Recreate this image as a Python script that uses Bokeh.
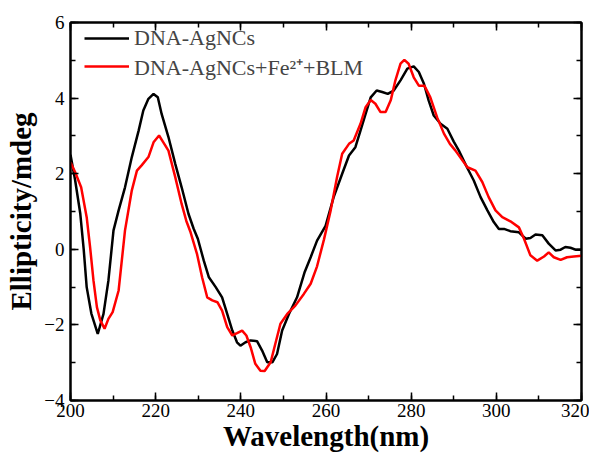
from bokeh.plotting import figure
from bokeh.models import (Range1d, LinearAxis, SingleIntervalTicker, Legend, LegendItem,
                          CustomJSTickFormatter)
from bokeh.embed import file_html
from bokeh.resources import INLINE

# DNA-AgNCs (black)
wl_black = [200, 201.1, 202.3, 203.1, 203.8, 204.9, 206.4, 207.75, 208.9, 210.1, 211.3, 212.8,
            214.4, 216.0, 217.1, 218.3, 219.5, 220.5, 221.4, 223.0, 224.6, 226.1, 227.7, 228.9,
            229.9, 231.3, 232.5, 234.1, 235.6, 236.8, 238.0, 239.1, 239.9, 241.1, 242.3, 243.8,
            245.0, 246.2, 247.4, 248.5, 249.7, 251.3, 253.2, 255.0, 256.4, 257.9, 259.9, 261.8,
            263.8, 265.4, 266.9, 268.1, 269.3, 270.5, 271.9, 273.2, 274.5, 275.9, 277.5, 279.1,
            280.6, 281.8, 283.0, 284.1, 285.3, 286.9, 288.5, 290.0, 291.2, 293.1, 294.7, 296.3,
            297.9, 299.4, 300.6, 301.8, 303.3, 305.3, 306.9, 308.0, 309.2, 310.8, 312.3, 313.9,
            315.1, 316.2, 317.4, 318.6, 320]
cd_black = [2.5, 1.82, 0.94, 0.0, -1.0, -1.7, -2.24, -1.71, -0.83, 0.50, 1.03, 1.64,
            2.44, 3.14, 3.67, 3.98, 4.11, 4.02, 3.58, 2.97, 2.26, 1.64, 0.94, 0.55,
            0.28, -0.30, -0.74, -1.00, -1.27, -1.71, -2.15, -2.46, -2.55, -2.46, -2.41, -2.43,
            -2.68, -2.99, -2.99, -2.77, -2.15, -1.71, -1.27, -0.60, -0.21, 0.23, 0.62, 1.38,
            2.00, 2.48, 2.70, 3.14, 3.58, 4.02, 4.20, 4.16, 4.11, 4.20, 4.47, 4.78,
            4.84, 4.69, 4.38, 3.94, 3.54, 3.32, 3.19, 2.85, 2.61, 2.17, 1.82, 1.38,
            1.03, 0.72, 0.54, 0.54, 0.48, 0.45, 0.28, 0.30, 0.39, 0.37, 0.15, -0.03,
            -0.01, 0.06, 0.04, -0.01, -0.01]

# DNA-AgNCs+Fe2+ +BLM (red)
wl_red = [200, 201.1, 202.5, 203.8, 204.6, 205.4, 206.2, 207.0, 208.0, 208.9, 209.9, 211.3,
          212.8, 214.4, 215.6, 216.7, 218.3, 219.5, 220.8, 221.8, 223.0, 224.6, 226.1, 227.2,
          228.2, 229.7, 230.9, 232.1, 233.3, 234.5, 235.6, 236.8, 238.0, 239.1, 240.3, 241.3,
          242.3, 243.4, 244.6, 245.6, 247.0, 248.1, 249.3, 250.9, 252.8, 254.8, 256.4, 257.9,
          259.5, 261.1, 262.6, 263.8, 265.4, 266.5, 268.1, 269.3, 270.5, 271.6, 272.8, 274.0,
          275.2, 276.3, 277.5, 278.4, 279.4, 280.6, 281.8, 283.1, 284.5, 286.1, 287.7, 289.1,
          290.4, 293.2, 295.1, 296.7, 298.2, 299.8, 301.4, 303.3, 305.3, 306.5, 308.0, 309.6,
          311.2, 312.3, 313.5, 315.1, 316.6, 318.2, 320]
cd_red = [2.30, 2.04, 1.64, 0.85, 0.06, -0.83, -1.53, -1.88, -2.10, -1.84, -1.66, -1.09,
          0.50, 1.56, 2.08, 2.22, 2.44, 2.83, 3.01, 2.83, 2.61, 1.91, 1.20, 0.75,
          0.45, -0.12, -0.74, -1.27, -1.35, -1.40, -1.62, -2.06, -2.28, -2.22, -2.15, -2.28,
          -2.59, -3.03, -3.21, -3.22, -2.99, -2.50, -1.97, -1.71, -1.49, -1.18, -0.91, -0.45,
          0.25, 1.03, 1.91, 2.53, 2.79, 2.88, 3.32, 3.76, 3.95, 3.85, 3.63, 3.63,
          3.94, 4.47, 4.91, 5.01, 4.91, 4.55, 4.33, 4.33, 4.02, 3.49, 3.06, 2.79,
          2.61, 2.17, 2.08, 1.78, 1.38, 1.03, 0.85, 0.74, 0.58, 0.28, -0.16, -0.30,
          -0.19, -0.08, -0.21, -0.28, -0.21, -0.19, -0.17]

labels = ["DNA-AgNCs", "DNA-AgNCs+Fe\u00b2\u207a+BLM"]

SERIF = "Liberation Serif"

p = figure(width=589, height=455, output_backend="svg", toolbar_location=None,
           x_range=Range1d(200, 320), y_range=Range1d(-4, 6),
           min_border_left=70, min_border_right=8, min_border_top=22, min_border_bottom=55)
p.grid.visible = False
p.outline_line_color = "black"
p.outline_line_width = 2
p.background_fill_color = "white"
p.border_fill_color = "white"

xt = SingleIntervalTicker(interval=20, num_minor_ticks=2)
yt = SingleIntervalTicker(interval=2, num_minor_ticks=2)

for ax in p.xaxis:
    ax.ticker = xt
for ax in p.yaxis:
    ax.ticker = yt

blank = CustomJSTickFormatter(code="return ''")
p.add_layout(LinearAxis(ticker=xt, formatter=blank, major_label_standoff=0), "above")
p.add_layout(LinearAxis(ticker=yt, formatter=blank, major_label_standoff=0), "right")

for ax in p.xaxis + p.yaxis:
    ax.axis_line_width = 2
    ax.axis_line_color = "black"
    ax.major_tick_line_width = 1.5
    ax.minor_tick_line_width = 1.5
    ax.major_tick_in = 8
    ax.major_tick_out = 0
    ax.minor_tick_in = 5
    ax.minor_tick_out = 0
    ax.major_label_text_font = SERIF
    ax.major_label_text_font_size = "19px"
    ax.major_label_text_color = "black"
    ax.axis_label_text_font = SERIF
    ax.axis_label_text_font_style = "bold"
    ax.axis_label_text_font_size = "29px"
    ax.axis_label_text_color = "black"

p.below[0].axis_label = "Wavelength(nm)"
p.below[0].major_label_standoff = 3
p.below[0].axis_label_standoff = 0
p.left[0].axis_label = "Ellipticity/mdeg"
p.left[0].major_label_standoff = 6
p.left[0].axis_label_standoff = 4

r1 = p.line(wl_black, cd_black, line_color="black", line_width=2.5)
r2 = p.line(wl_red, cd_red, line_color="#ff0000", line_width=2.5)

legend = Legend(items=[LegendItem(label=labels[0], renderers=[r1]),
                       LegendItem(label=labels[1], renderers=[r2])],
                location=(14, 319), border_line_color=None, background_fill_alpha=0,
                padding=5, margin=0, spacing=-2, glyph_width=45, glyph_height=22,
                label_height=22, label_standoff=5,
                label_text_font=SERIF, label_text_font_size="22px")
p.add_layout(legend)

open("out.html", "w").write(file_html(p, INLINE))
